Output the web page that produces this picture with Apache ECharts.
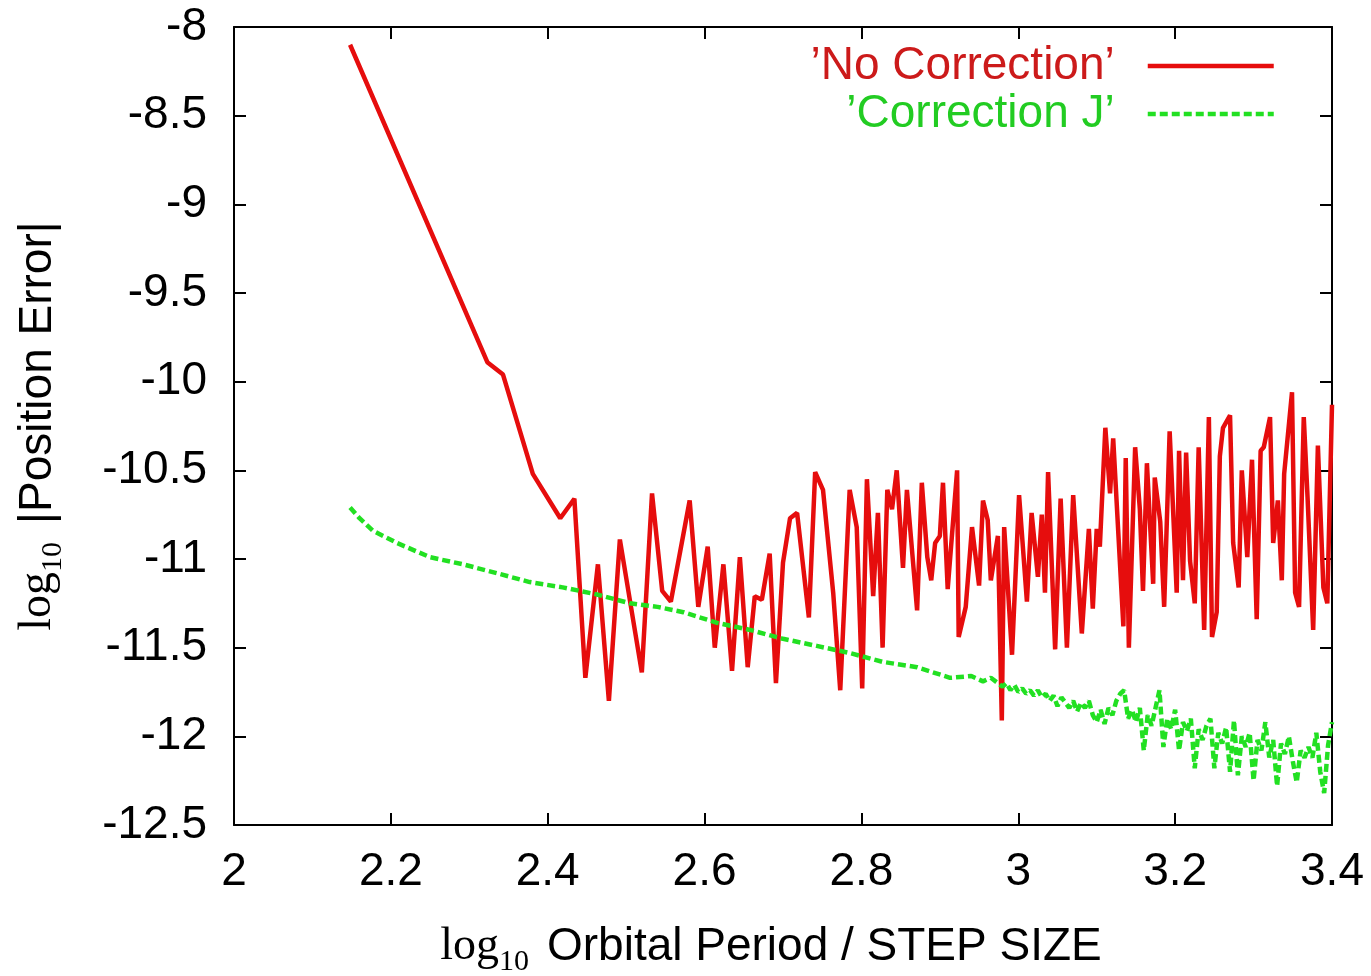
<!DOCTYPE html>
<html>
<head>
<meta charset="utf-8">
<script src="https://cdn.jsdelivr.net/npm/echarts@6/dist/echarts.min.js"></script>
<style>
html,body{margin:0;padding:0;background:#fff;}
#chart{width:1371px;height:976px;}
</style>
</head>
<body>
<div id="chart"></div>
<script>
// ---- data ----
const xTicks = [2, 2.2, 2.4, 2.6, 2.8, 3, 3.2, 3.4];
const yTicks = [-8, -8.5, -9, -9.5, -10, -10.5, -11, -11.5, -12, -12.5];

const seriesNames = ['\u2019No Correction\u2019', '\u2019Correction J\u2019'];

const noCorrX = [2.148,2.323,2.343,2.381,2.416,2.434,2.448,2.464,2.478,2.492,2.520,2.533,2.546,2.557,2.581,2.592,2.604,2.613,2.624,2.635,2.645,2.655,2.664,2.673,2.683,2.691,2.700,2.709,2.718,2.733,2.741,2.751,2.764,2.773,2.785,2.794,2.801,2.807,2.815,2.821,2.827,2.833,2.839,2.845,2.853,2.858,2.871,2.877,2.884,2.889,2.894,2.900,2.904,2.910,2.922,2.924,2.933,2.941,2.950,2.955,2.961,2.965,2.974,2.979,2.982,2.992,3.001,3.011,3.017,3.025,3.030,3.034,3.038,3.047,3.054,3.062,3.070,3.081,3.090,3.095,3.100,3.104,3.111,3.117,3.121,3.134,3.137,3.141,3.149,3.155,3.159,3.164,3.172,3.174,3.181,3.186,3.193,3.202,3.205,3.210,3.214,3.219,3.225,3.230,3.237,3.243,3.247,3.253,3.257,3.261,3.270,3.274,3.281,3.285,3.292,3.298,3.304,3.309,3.313,3.321,3.325,3.331,3.336,3.339,3.349,3.353,3.358,3.364,3.369,3.376,3.382,3.389,3.394,3.400];
const noCorrY = [-8.10,-9.89,-9.96,-10.52,-10.77,-10.66,-11.67,-11.03,-11.80,-10.89,-11.64,-10.63,-11.18,-11.24,-10.67,-11.27,-10.93,-11.50,-11.03,-11.63,-10.99,-11.61,-11.21,-11.23,-10.97,-11.70,-11.02,-10.77,-10.74,-11.33,-10.51,-10.61,-11.19,-11.74,-10.61,-10.82,-11.73,-10.55,-11.21,-10.74,-11.50,-10.61,-10.72,-10.50,-11.05,-10.61,-11.29,-10.57,-10.99,-11.12,-10.91,-10.87,-10.57,-11.17,-10.50,-11.44,-11.27,-10.82,-11.15,-10.67,-10.78,-11.12,-10.87,-11.91,-10.82,-11.54,-10.64,-11.24,-10.74,-11.10,-10.75,-11.19,-10.51,-11.51,-10.66,-11.50,-10.64,-11.42,-10.83,-11.28,-10.83,-10.93,-10.26,-10.63,-10.32,-11.38,-10.43,-11.50,-10.37,-10.72,-11.18,-10.46,-11.14,-10.54,-10.79,-11.27,-10.28,-11.19,-10.39,-11.12,-10.40,-11.01,-11.25,-10.37,-11.40,-10.20,-11.44,-11.30,-10.42,-10.26,-10.19,-10.91,-11.16,-10.50,-10.99,-10.44,-11.34,-10.39,-10.37,-10.20,-10.91,-10.67,-11.12,-10.52,-10.06,-11.19,-11.27,-10.20,-10.67,-11.40,-10.36,-11.16,-11.25,-10.13];

const corrJX = [2.148,2.160,2.177,2.208,2.250,2.292,2.335,2.377,2.419,2.463,2.505,2.540,2.573,2.616,2.658,2.700,2.743,2.785,2.827,2.871,2.913,2.940,2.955,2.965,2.977,
  2.980,2.985,2.990,2.995,3.000,3.005,3.010,3.015,3.020,3.025,3.030,3.035,3.040,3.045,3.050,3.055,3.060,3.065,3.070,3.075,3.080,3.085,3.090,3.095,3.100,3.105,3.110,3.115,3.120,3.125,3.130,3.135,3.140,3.145,3.150,3.155,3.160,3.165,3.170,3.175,3.180,3.185,3.190,3.195,3.200,3.205,3.210,3.215,3.220,3.225,3.230,3.235,3.240,3.245,3.250,3.255,3.260,3.265,3.270,3.275,3.280,3.285,3.290,3.295,3.300,3.305,3.310,3.315,3.320,3.325,3.330,3.335,3.340,3.345,3.350,3.355,3.360,3.365,3.370,3.375,3.380,3.385,3.390,3.395,3.400];
const corrJY = [-10.71,-10.77,-10.84,-10.91,-10.99,-11.03,-11.08,-11.13,-11.16,-11.20,-11.25,-11.27,-11.30,-11.36,-11.40,-11.45,-11.49,-11.53,-11.58,-11.61,-11.67,-11.66,-11.69,-11.67,-11.71,
  -11.72,-11.70,-11.74,-11.71,-11.75,-11.73,-11.76,-11.74,-11.77,-11.74,-11.78,-11.76,-11.80,-11.77,-11.83,-11.78,-11.81,-11.84,-11.80,-11.86,-11.81,-11.84,-11.80,-11.88,-11.92,-11.85,-11.93,-11.84,-11.88,-11.80,-11.76,-11.74,-11.90,-11.85,-11.92,-11.84,-12.08,-11.88,-11.94,-11.84,-11.74,-12.06,-11.90,-11.96,-11.85,-12.08,-11.92,-11.97,-11.90,-12.18,-11.96,-12.02,-11.94,-11.90,-12.18,-11.98,-12.04,-11.95,-12.20,-11.91,-12.22,-12.00,-12.06,-11.98,-12.25,-12.02,-12.08,-11.92,-12.12,-12.02,-12.28,-12.04,-12.10,-12.00,-12.14,-12.26,-12.08,-12.12,-12.06,-12.12,-11.98,-12.20,-12.32,-12.05,-11.92];

// ---- chart ----
const pairs = (xs, ys) => xs.map((x, i) => [x, ys[i]]);
const FONT = 'Liberation Sans';
const chart = echarts.init(document.getElementById('chart'), null, {renderer: 'canvas'});

const tickCommon = {inside: true, length: 12, lineStyle: {color: '#000', width: 2}};
const lineCommon = {show: true, onZero: false, lineStyle: {color: '#000', width: 2}};
const nameRich = {
  log: {fontFamily: 'Liberation Serif', fontSize: 46, color: '#000', lineHeight: 60, verticalAlign: 'middle'},
  sub: {fontFamily: 'Liberation Serif', fontSize: 30, color: '#000', lineHeight: 60, verticalAlign: 'bottom', padding: [0, 18, 0, 0]},
  txt: {fontFamily: FONT, fontSize: 46, color: '#000', lineHeight: 60, verticalAlign: 'middle'}
};

chart.setOption({
  backgroundColor: '#fff',
  animation: false,
  grid: {left: 234, right: 39, top: 27, bottom: 151, containLabel: false, outerBoundsMode: 'none'},
  legend: {
    orient: 'vertical',
    right: 90,
    top: 38,
    align: 'right',
    itemWidth: 126,
    itemHeight: 12,
    itemGap: 2,
    selectedMode: false,
    itemStyle: {opacity: 0},
    lineStyle: {width: 4.5},
    textStyle: {fontFamily: FONT, fontSize: 46, lineHeight: 46, padding: [0, 28, 0, 0]},
    data: [
      {name: seriesNames[0], textStyle: {color: '#cc1a1a'}},
      {name: seriesNames[1], textStyle: {color: '#22cc22'}}
    ]
  },
  xAxis: [{
    type: 'value', min: xTicks[0], max: xTicks[xTicks.length - 1], interval: 0.2,
    position: 'bottom',
    axisLine: lineCommon, axisTick: tickCommon, splitLine: {show: false},
    axisLabel: {fontFamily: FONT, fontSize: 46, color: '#000', margin: 24,
      formatter: v => String(+v.toFixed(1))},
    name: '{log|log}{sub|10}{txt|Orbital Period / STEP SIZE}',
    nameLocation: 'middle', nameGap: 92,
    nameTextStyle: {rich: nameRich, padding: [0, 24, 0, 0]}
  }, {
    type: 'value', min: xTicks[0], max: xTicks[xTicks.length - 1], interval: 0.2,
    position: 'top',
    axisLine: lineCommon, axisTick: tickCommon, splitLine: {show: false},
    axisLabel: {show: false}
  }],
  yAxis: [{
    type: 'value', min: yTicks[yTicks.length - 1], max: yTicks[0], interval: 0.5,
    position: 'left',
    axisLine: lineCommon, axisTick: tickCommon, splitLine: {show: false},
    axisLabel: {fontFamily: FONT, fontSize: 46, color: '#000', margin: 27,
      formatter: v => String(+v.toFixed(1))},
    name: '{log|log}{sub|10}{txt||Position Error|}',
    nameLocation: 'middle', nameGap: 166, nameRotate: 90,
    nameTextStyle: {rich: nameRich}
  }, {
    type: 'value', min: yTicks[yTicks.length - 1], max: yTicks[0], interval: 0.5,
    position: 'right',
    axisLine: lineCommon, axisTick: tickCommon, splitLine: {show: false},
    axisLabel: {show: false}
  }],
  series: [{
    name: seriesNames[0], type: 'line', xAxisIndex: 0, yAxisIndex: 0,
    data: pairs(noCorrX, noCorrY),
    symbol: 'none', showSymbol: false,
    lineStyle: {color: '#e60d0d', width: 4.5},
    itemStyle: {color: '#e60d0d'}
  }, {
    name: seriesNames[1], type: 'line', xAxisIndex: 0, yAxisIndex: 0,
    data: pairs(corrJX, corrJY),
    symbol: 'none', showSymbol: false,
    lineStyle: {color: '#22e022', width: 4.5, type: [8, 4]},
    itemStyle: {color: '#22e022'}
  }]
});
</script>
</body>
</html>
